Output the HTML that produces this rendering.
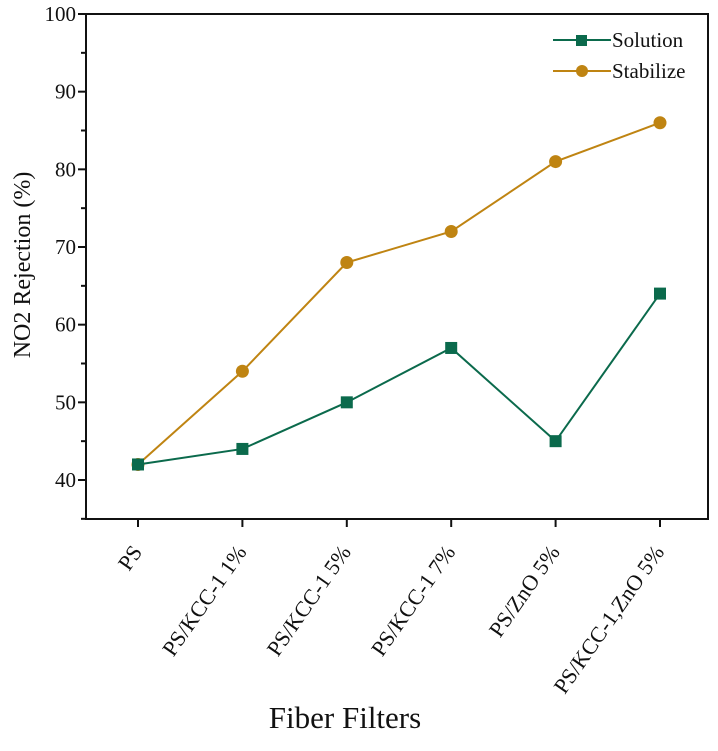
<!DOCTYPE html>
<html><head><meta charset="utf-8"><style>
body{margin:0;background:#fff;}
svg text{font-family:"Liberation Serif",serif;fill:#111;}
</style></head><body>
<svg id="chart" width="718" height="746" xmlns="http://www.w3.org/2000/svg"></svg>
<script>
const categories=["PS","PS/KCC-1 1%","PS/KCC-1 5%","PS/KCC-1 7%","PS/ZnO 5%","PS/KCC-1,ZnO 5%"];
const solution=[42,44,50,57,45,64];
const stabilize=[42,54,68,72,81,86];
const yTicks=[40,50,60,70,80,90,100];
const NS="http://www.w3.org/2000/svg";
const svg=document.getElementById('chart');
const L=86,R=708,T=14,B=519;
const y=v=>T+(100-v)*(480-14)/60;
const x=i=>138+i*104.4;
function el(t,a,p){const e=document.createElementNS(NS,t);for(const k in a)e.setAttribute(k,a[k]);(p||svg).appendChild(e);return e;}
const frame=el('rect',{x:L,y:T,width:R-L,height:B-T,fill:'none',stroke:'#111','stroke-width':2});


for(let v=35;v<=100;v+=5){
  const major=v%10===0;
  const t=el('line',{x1:L-(major?8:5),x2:L,y1:y(v),y2:y(v),stroke:'#111','stroke-width':2});
  
  
}
yTicks.forEach(v=>{
  const t=el('text',{x:L-10,y:y(v)+7,'text-anchor':'end','font-size':21});
  t.textContent=v;
  
  
});
categories.forEach((c,i)=>{
  const tk=el('line',{x1:x(i),x2:x(i),y1:B,y2:B+8,stroke:'#111','stroke-width':2});
  
  
  const tx=x(i)+5,ty=B+33;
  const t=el('text',{x:tx,y:ty,'text-anchor':'end','font-size':22,transform:`rotate(-55 ${tx} ${ty})`});
  t.textContent=c;
  
  
});
function series(vals,color,shape,name){
  const g=el('g',{});
  
  
  el('polyline',{points:vals.map((v,i)=>x(i)+','+y(v)).join(' '),fill:'none',stroke:color,'stroke-width':2},g);
  vals.forEach((v,i)=>{
    let m;
    if(shape==='sq')m=el('rect',{x:x(i)-6,y:y(v)-6,width:12,height:12,fill:color},g);
    else m=el('circle',{cx:x(i),cy:y(v),r:6.5,fill:color},g);
    
    
  });
}
series(stabilize,'#bf8412','c','stabilize');
series(solution,'#0b6a4c','sq','solution');
[[ 'Solution','#0b6a4c','sq',40],['Stabilize','#bf8412','c',71]].forEach(([n,c,s,yy])=>{
  const g=el('g',{});
  
  
  el('line',{x1:553,x2:611,y1:yy,y2:yy,stroke:c,'stroke-width':2},g);
  if(s==='sq')el('rect',{x:576,y:yy-5,width:11,height:11,fill:c},g);
  else el('circle',{cx:582,cy:yy,r:6,fill:c},g);
  const t=el('text',{x:612,y:yy+7,'font-size':21},g);t.textContent=n;
});
const yt=el('text',{x:30,y:265,'text-anchor':'middle','font-size':24,transform:'rotate(-90 30 265)'});
yt.textContent='NO2 Rejection (%)';


const xt=el('text',{x:345,y:728,'text-anchor':'middle','font-size':31});
xt.textContent='Fiber Filters';


</script>
</body></html>
